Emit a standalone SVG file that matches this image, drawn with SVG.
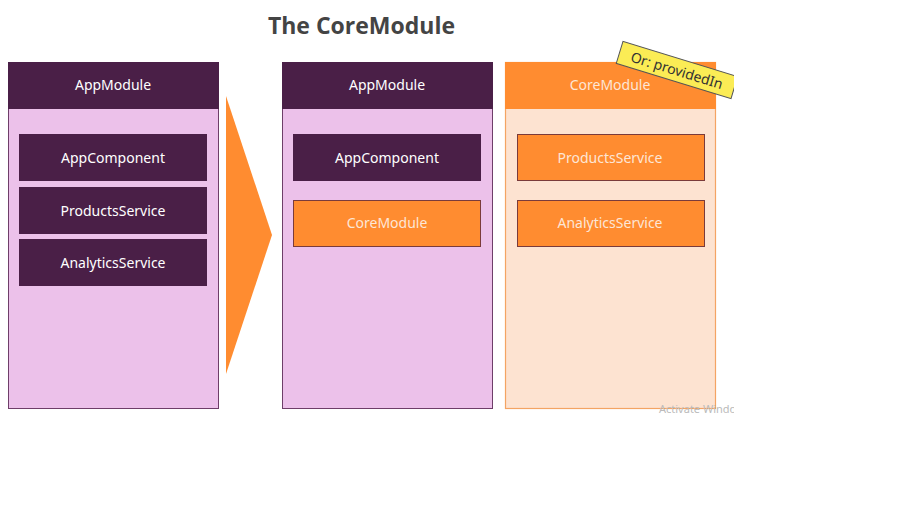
<svg xmlns="http://www.w3.org/2000/svg" width="913" height="507" viewBox="0 0 913 507">
<style>
.t{font-family:"Noto Sans","Liberation Sans",sans-serif;font-size:14px;text-anchor:middle;dominant-baseline:central}
.w{fill:#ffffff}
.c{fill:#fde6d6}
.pbody{fill:#ecc1ea;stroke:#6e3e69;stroke-width:1}
.phead{fill:#4a1f47}
.pbox{fill:#4a1f47}
.obox{fill:#ff8c30;stroke:#7a3b3b;stroke-width:1}
.obody{fill:#fde3d1;stroke:#f4a463;stroke-width:1.2}
.ohead{fill:#ff8c30}
</style>
<defs>
<clipPath id="clip"><rect x="0" y="0" width="734" height="507"/></clipPath>
</defs>
<rect width="913" height="507" fill="#ffffff"/>
<text x="361.5" y="25" font-family="'Open Sans','Noto Sans',sans-serif" font-weight="bold" font-size="23" fill="#444444" text-anchor="middle" dominant-baseline="central">The CoreModule</text>

<g id="appmodule-left">
<rect class="pbody" x="8.5" y="62.5" width="210" height="346"/>
<rect class="phead" x="8" y="62" width="211" height="47"/>
<text class="t w" x="113" y="84.5">AppModule</text>
</g>
<g id="appcomponent-left">
<rect class="pbox" x="19" y="134" width="188" height="47"/>
<text class="t w" x="113" y="157">AppComponent</text>
</g>
<g id="productsservice-left">
<rect class="pbox" x="19" y="187" width="188" height="47"/>
<text class="t w" x="113" y="210">ProductsService</text>
</g>
<g id="analyticsservice-left">
<rect class="pbox" x="19" y="239" width="188" height="47"/>
<text class="t w" x="113" y="262.5">AnalyticsService</text>
</g>

<g id="connectors">
<polygon points="226,96 272,235 226,374" fill="#ff8c30"/>
</g>

<g id="appmodule-mid">
<rect class="pbody" x="282.5" y="62.5" width="210" height="346"/>
<rect class="phead" x="282" y="62" width="211" height="47"/>
<text class="t w" x="387" y="84.5">AppModule</text>
</g>
<g id="appcomponent-mid">
<rect class="pbox" x="293" y="134" width="188" height="47"/>
<text class="t w" x="387" y="157">AppComponent</text>
</g>
<g id="coremodule-mid">
<rect class="obox" x="293.5" y="200.5" width="187" height="46"/>
<text class="t c" x="387" y="222.5">CoreModule</text>
</g>

<g id="coremodule-right">
<rect class="obody" x="505.5" y="62.5" width="210" height="346"/>
<rect class="ohead" x="505" y="62" width="211" height="47"/>
<text class="t c" x="610" y="84.5">CoreModule</text>
</g>
<g id="productsservice-right">
<rect class="obox" x="517.5" y="134.5" width="187" height="46"/>
<text class="t c" x="610" y="157">ProductsService</text>
</g>
<g id="analyticsservice-right">
<rect class="obox" x="517.5" y="200.5" width="187" height="46"/>
<text class="t c" x="610" y="222.5">AnalyticsService</text>
</g>

<g id="note" clip-path="url(#clip)">
<g transform="translate(677,70) rotate(17)">
<rect x="-60" y="-11.5" width="120" height="23" fill="#fbec55" stroke="#555555" stroke-width="1"/>
<text x="0" y="0" font-family="'Noto Sans','Liberation Sans',sans-serif" font-size="14" fill="#333333" text-anchor="middle" dominant-baseline="central">Or: providedIn</text>
</g>
</g>

<g clip-path="url(#clip)">
<text x="659" y="408" font-family="'Noto Sans','Liberation Sans',sans-serif" font-size="11" fill="#bbbbbb" dominant-baseline="central">Activate Windows</text>
</g>
</svg>
